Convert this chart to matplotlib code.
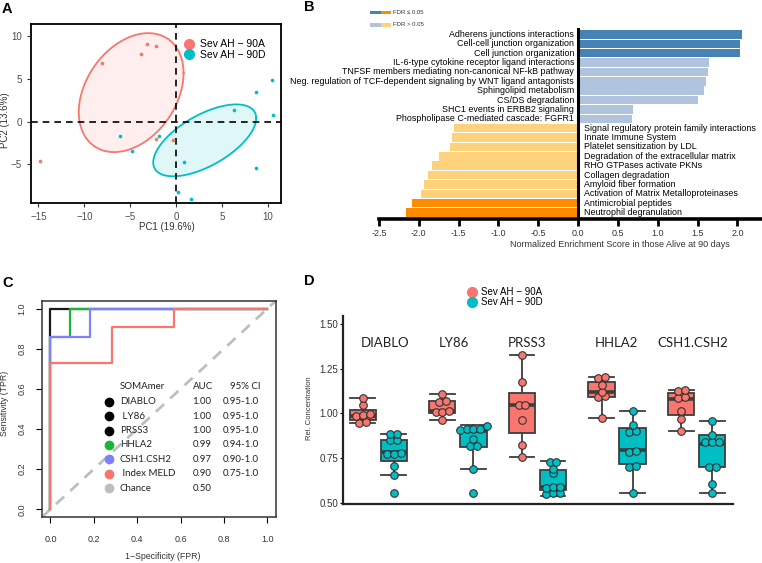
import numpy as np
import matplotlib
matplotlib.use("Agg")
import matplotlib.pyplot as plt
from matplotlib.patches import Rectangle
from matplotlib.lines import Line2D

plt.rcParams["font.family"] = ["Liberation Sans", "DejaVu Sans"]

W, H = 762, 563
RED = "#F8766D"
CYAN = "#00BFC4"

# === Panel A: PCA scores ===
pca_90a_pc1 = [-14.8, -8.1, -3.8, -3.2, -2.2, -2.2, -0.4]
pca_90a_pc2 = [-4.6, 6.9, 7.9, 9.1, 8.9, -2.0, -2.2]
pca_90d_pc1 = [-6.1, -4.8, -1.9, 0.8, 0.2, 1.6, 6.3, 8.7, 10.4, 10.5, 8.7]
pca_90d_pc2 = [-1.7, -3.5, -1.7, -4.7, -8.3, -9.1, 1.4, 3.5, 4.9, 0.8, -5.5]
ell_90a_center = [-4.9, 3.4]
ell_90a_shape = [[32.5, 13.0], [13.0, 48.7]]
ell_90d_center = [3.1, -2.2]
ell_90d_shape = [[31.4, 14.5], [14.5, 17.8]]

# === Panel B: GSEA ===
gsea_terms = [
    "Adherens junctions interactions",
    "Cell-cell junction organization",
    "Cell junction organization",
    "IL-6-type cytokine receptor ligand interactions",
    "TNFSF members mediating non-canonical NF-kB pathway",
    "Neg. regulation of TCF-dependent signaling by WNT ligand antagonists",
    "Sphingolipid metabolism",
    "CS/DS degradation",
    "SHC1 events in ERBB2 signaling",
    "Phospholipase C-mediated cascade: FGFR1",
    "Signal regulatory protein family interactions",
    "Innate Immune System",
    "Platelet sensitization by LDL",
    "Degradation of the extracellular matrix",
    "RHO GTPases activate PKNs",
    "Collagen degradation",
    "Amyloid fiber formation",
    "Activation of Matrix Metalloproteinases",
    "Antimicrobial peptides",
    "Neutrophil degranulation",
]
gsea_nes = [2.06, 2.03, 2.03, 1.65, 1.63, 1.61, 1.58, 1.50, 0.685, 0.68,
            -1.56, -1.58, -1.61, -1.75, -1.84, -1.88, -1.93, -1.97, -2.09, -2.16]
gsea_fdr_sig = [1, 1, 1, 0, 0, 0, 0, 0, 0, 0,
                0, 0, 0, 0, 0, 0, 0, 0, 1, 1]

# === Panel C: ROC ===
roc_names = ["DIABLO", " LY86", "PRSS3", "HHLA2", "CSH1.CSH2", " Index MELD", "Chance"]
roc_auc = ["1.00", "1.00", "1.00", "0.99", "0.97", "0.90", "0.50"]
roc_ci = ["0.95-1.0", "0.95-1.0", "0.95-1.0", "0.94-1.0", "0.90-1.0", "0.75-1.0", ""]
roc_colors = ["black", "black", "black", "#1DB33B", "#8080FF", RED, "#BEBEBE"]
roc_somamer_fpr = [0, 0, 1]
roc_somamer_tpr = [0, 1, 1]
roc_hhla2_fpr = [0, 0, 0.091, 0.091, 1]
roc_hhla2_tpr = [0, 0.857, 0.857, 1, 1]
roc_csh_fpr = [0, 0, 0.182, 0.182, 1]
roc_csh_tpr = [0, 0.857, 0.857, 1, 1]
roc_meld_fpr = [0, 0, 0.286, 0.286, 0.571, 0.571, 1]
roc_meld_tpr = [0, 0.727, 0.727, 0.909, 0.909, 1, 1]

# === Panel D: relative concentrations ===
d_genes = ["DIABLO", "LY86", "PRSS3", "HHLA2", "CSH1.CSH2"]
diablo_90a = [1.088, 1.045, 0.995, 0.99, 0.985, 0.95, 0.945]
ly86_90a = [1.111, 1.072, 1.065, 1.013, 1.01, 1.006, 0.965]
prss3_90a = [1.326, 1.177, 1.047, 1.045, 0.961, 0.825, 0.757]
hhla2_90a = [1.205, 1.2, 1.16, 1.12, 1.10, 1.093, 0.976]
csh_90a = [1.131, 1.128, 1.09, 1.088, 1.015, 0.968, 0.901]
diablo_90d = [0.884, 0.882, 0.853, 0.851, 0.776, 0.774, 0.772, 0.707, 0.655, 0.555]
ly86_90d = [0.93, 0.912, 0.911, 0.91, 0.909, 0.855, 0.818, 0.816, 0.69, 0.555]
prss3_90d = [0.73, 0.728, 0.69, 0.664, 0.59, 0.588, 0.585, 0.555, 0.553, 0.551]
hhla2_90d = [1.015, 0.937, 0.9, 0.897, 0.787, 0.785, 0.703, 0.70, 0.553]
csh_90d = [0.957, 0.88, 0.842, 0.84, 0.838, 0.70, 0.698, 0.603, 0.554]
# box statistics (lo whisker, q1, median, q3, hi whisker)
box_90a_lo = [0.944, 0.965, 0.757, 0.976, 0.901]
box_90a_q1 = [0.963, 1.005, 0.892, 1.093, 0.991]
box_90a_med = [0.985, 1.013, 1.047, 1.121, 1.079]
box_90a_q3 = [1.019, 1.071, 1.112, 1.177, 1.112]
box_90a_hi = [1.088, 1.111, 1.326, 1.205, 1.131]
box_90d_lo = [0.655, 0.69, 0.539, 0.553, 0.554]
box_90d_q1 = [0.733, 0.813, 0.571, 0.717, 0.698]
box_90d_med = [0.785, 0.9, 0.586, 0.795, 0.828]
box_90d_q3 = [0.853, 0.911, 0.681, 0.92, 0.879]
box_90d_hi = [0.884, 0.933, 0.731, 1.015, 0.957]

fig = plt.figure(figsize=(W / 100, H / 100), dpi=100)


def px_box(l, t, r, b):
    return [l / W, 1 - b / H, (r - l) / W, (b - t) / H]


# === Panel letters ===
for lab, x, y in [("A", 2, 9), ("B", 304, 7), ("C", 2, 283), ("D", 304, 281)]:
    fig.text(x / W, 1 - y / H, lab, fontsize=10.5, weight="bold", va="center")

# === A ===
axA = fig.add_axes(px_box(31, 24, 281, 203))
t = np.linspace(0, 2 * np.pi, 300)
for center, shape, col in [(ell_90a_center, ell_90a_shape, RED),
                           (ell_90d_center, ell_90d_shape, CYAN)]:
    L = np.linalg.cholesky(np.array(shape))
    pts = np.array(center)[:, None] + L @ np.vstack([np.cos(t), np.sin(t)])
    axA.fill(pts[0], pts[1], color=col, alpha=0.12, lw=0)
    axA.plot(pts[0], pts[1], color=col, lw=1.3)
axA.axhline(0, color="black", ls=(0, (4, 3)), lw=1.2)
axA.axvline(0, color="black", ls=(0, (4, 3)), lw=1.2)
axA.scatter(pca_90a_pc1, pca_90a_pc2, s=7, color=RED, zorder=3, lw=0)
axA.scatter(pca_90d_pc1, pca_90d_pc2, s=7, color=CYAN, zorder=3, lw=0)
axA.set_xlim(-15.8, 11.4)
axA.set_ylim(-9.55, 11.45)
axA.set_xticks([-15, -10, -5, 0, 5, 10])
axA.set_yticks([-5, 0, 5, 10])
axA.tick_params(labelsize=7, labelcolor="#4D4D4D", color="#333333", length=3, width=0.8)
for s in axA.spines.values():
    s.set_linewidth(1.3)
axA.text(0.545, -0.135, "PC1 (19.6%)", transform=axA.transAxes, ha="center", va="center",
         fontsize=7, color="#333333")
axA.text(-0.104, 0.464, "PC2 (13.6%)", transform=axA.transAxes, ha="center", va="center",
         fontsize=7, color="#333333", rotation=90)
hA = [Line2D([], [], marker="o", ls="", ms=7, color=c) for c in (RED, CYAN)]
axA.legend(hA, ["Sev AH \u2212 90A", "Sev AH \u2212 90D"], loc="upper left",
           bbox_to_anchor=(0.612, 0.915), frameon=False, fontsize=7.5,
           handletextpad=0.5, labelspacing=0.05, borderaxespad=0, borderpad=0,
           handlelength=1.0)

# === B ===
axB = fig.add_axes(px_box(379, 28, 762, 219))
ypos = np.arange(len(gsea_terms))
bcols = []
for v, sig in zip(gsea_nes, gsea_fdr_sig):
    if v > 0:
        bcols.append("#4682B4" if sig else "#B0C4DE")
    else:
        bcols.append("#FF8C00" if sig else "#FED17B")
axB.barh(ypos, gsea_nes, height=0.9, color=bcols)
axB.set_ylim(len(gsea_terms) - 0.31, -0.69)
axB.set_xlim(-2.5, 2.31)
axB.axvline(0, color="black", lw=2.2)
for y, term, v in zip(ypos, gsea_terms, gsea_nes):
    if v > 0:
        axB.text(-0.05, y, term, ha="right", va="center", fontsize=6.4)
    else:
        axB.text(0.07, y, term, ha="left", va="center", fontsize=6.4)
for side in ("left", "top", "right"):
    axB.spines[side].set_visible(False)
axB.spines["bottom"].set_linewidth(2.6)
axB.set_yticks([])
bt = [-2.5, -2.0, -1.5, -1.0, -0.5, 0.0, 0.5, 1.0, 1.5, 2.0]
axB.set_xticks(bt)
axB.set_xticklabels([f"{v:.1f}" for v in bt])
axB.tick_params(axis="x", labelsize=6.5, length=5, width=2, labelcolor="#333333", pad=2)
axB.text(0.629, -0.136, "Normalized Enrichment Score in those Alive at 90 days",
         transform=axB.transAxes, ha="center", va="center", fontsize=6.5, color="#333333")
# FDR legend
for row, (c1, c2, lab) in enumerate([("#4682B4", "#FF8C00", "FDR \u2264 0.05"),
                                     ("#B0C4DE", "#FED17B", "FDR > 0.05")]):
    yt = 11 + row * 12.3
    for k, c in enumerate((c1, c2)):
        fig.add_artist(Rectangle(((370 + k * 10.8) / W, 1 - (yt + 3.4) / H), 10.6 / W, 3.4 / H,
                                 transform=fig.transFigure, color=c, lw=0))
    fig.text(393 / W, 1 - (yt + 1.7) / H, lab, fontsize=4.3, va="center", color="#333333")

# === C ===
axC = fig.add_axes(px_box(41.7, 300.7, 276, 517.3))
axC.plot([-0.04, 1.04], [-0.04, 1.04], color="#BEBEBE", lw=2.0, ls=(0, (4, 3)))
axC.plot(roc_somamer_fpr, roc_somamer_tpr, color="#1a1a1a", lw=1.6)
axC.plot(roc_hhla2_fpr, roc_hhla2_tpr, color=roc_colors[3], lw=1.6)
axC.plot(roc_csh_fpr, roc_csh_tpr, color=roc_colors[4], lw=1.6)
axC.plot(roc_meld_fpr, roc_meld_tpr, color=roc_colors[5], lw=1.6)
axC.set_xlim(-0.04, 1.04)
axC.set_ylim(-0.04, 1.04)
ct = [0.0, 0.2, 0.4, 0.6, 0.8, 1.0]
axC.set_xticks(ct)
axC.set_yticks(ct)
axC.set_xticklabels([f"{v:.1f}" for v in ct])
axC.set_yticklabels([f"{v:.1f}" for v in ct], rotation=90, va="center")
axC.tick_params(labelsize=6.5, labelcolor="#333333", length=4, width=0.8, pad=7)
axC.tick_params(axis="x", pad=9)
for s in axC.spines.values():
    s.set_linewidth(1.1)
    s.set_color("#333333")
axC.text(0.518, -0.183, "1\u2212Specificity (FPR)", transform=axC.transAxes, ha="center",
         va="center", fontsize=6.3, color="#333333")
axC.text(-0.157, 0.528, "Sensitivity (TPR)", transform=axC.transAxes, ha="center",
         va="center", fontsize=6.3, color="#333333", rotation=90)
# legend table
lf = dict(fontsize=7, va="center", family=["Lato", "DejaVu Sans"], color="#222222")
axC.text(0.32, 0.61, "SOMAmer", **lf)
axC.text(0.655, 0.61, "AUC", **lf)
axC.text(0.827, 0.61, "95% CI", **lf)
for i, (nm, auc, ci, col) in enumerate(zip(roc_names, roc_auc, roc_ci, roc_colors)):
    yy = 0.535 - i * 0.0715
    axC.plot(0.27, yy, marker="o", ms=6, color=col, ls="")
    axC.text(0.32, yy, nm, **lf)
    axC.text(0.655, yy, auc, **lf)
    axC.text(0.794, yy, ci, **lf)

# === D ===
axD = fig.add_axes(px_box(342.7, 316, 733, 504))
pts_90a = [diablo_90a, ly86_90a, prss3_90a, hhla2_90a, csh_90a]
pts_90d = [diablo_90d, ly86_90d, prss3_90d, hhla2_90d, csh_90d]
stats, pos, fcols, allpts = [], [], [], []
for i in range(len(d_genes)):
    for off, col, lo, q1, med, q3, hi, pts in [
        (-0.195, RED, box_90a_lo, box_90a_q1, box_90a_med, box_90a_q3, box_90a_hi, pts_90a),
        (0.195, CYAN, box_90d_lo, box_90d_q1, box_90d_med, box_90d_q3, box_90d_hi, pts_90d)]:
        stats.append(dict(whislo=lo[i], q1=q1[i], med=med[i], q3=q3[i], whishi=hi[i], fliers=[]))
        pos.append(i + off)
        fcols.append(col)
        allpts.append(pts[i])
bp = axD.bxp(stats, positions=pos, widths=0.33, capwidths=0.31, patch_artist=True,
             showfliers=False,
             boxprops=dict(edgecolor="#3d3d3d", lw=1.3),
             medianprops=dict(color="#3d3d3d", lw=2.6),
             whiskerprops=dict(color="#3d3d3d", lw=1.3),
             capprops=dict(color="#3d3d3d", lw=1.3))
for patch, col in zip(bp["boxes"], fcols):
    patch.set_facecolor(col)


def dodge(vals, gap=0.02, step=0.085):
    vals = np.sort(np.asarray(vals))
    offs = np.zeros(len(vals))
    start = 0
    for k in range(1, len(vals) + 1):
        if k == len(vals) or vals[k] - vals[k - 1] > gap:
            n = k - start
            offs[start:k] = (np.arange(n) - (n - 1) / 2) * step
            start = k
    return vals, offs


for p, col, vals in zip(pos, fcols, allpts):
    v, o = dodge(vals)
    axD.scatter(p + o, v, s=30, color=col, edgecolor="#333333", lw=0.8, zorder=4)

for i, g in enumerate(d_genes):
    lx = [0.084, 0.955, 1.87, 2.995, 3.95][i]
    axD.text(lx, 1.392, g, ha="center", va="center", fontsize=9.5,
             family=["Lato", "DejaVu Sans"], color="#222222")
axD.set_xlim(-0.447, 4.456)
axD.set_ylim(0.493, 1.545)
axD.set_xticks([])
axD.set_yticks([0.5, 0.75, 1.0, 1.25, 1.5])
axD.set_yticklabels(["0.50", "0.75", "1.00", "1.25", "1.50"])
axD.tick_params(axis="y", labelsize=7, labelcolor="#333333", length=2, width=0.8, pad=1)
for side in ("top", "right"):
    axD.spines[side].set_visible(False)
for side in ("left", "bottom"):
    axD.spines[side].set_linewidth(1.6)
    axD.spines[side].set_color("#222222")
axD.text(-0.086, 0.51, "Rel. Concentration", transform=axD.transAxes, ha="center",
         va="center", fontsize=5.5, rotation=90, color="#333333")
hD = [Line2D([], [], marker="o", ls="", ms=7, color=c) for c in (RED, CYAN)]
fig.legend(hD, ["Sev AH \u2212 90A", "Sev AH \u2212 90D"], loc="upper left",
           bbox_to_anchor=(467 / W, 1 - 287 / H), frameon=False, fontsize=7,
           handletextpad=0.4, labelspacing=0.0, borderaxespad=0, borderpad=0,
           handlelength=1.0)

fig.savefig("out.png", dpi=100)
